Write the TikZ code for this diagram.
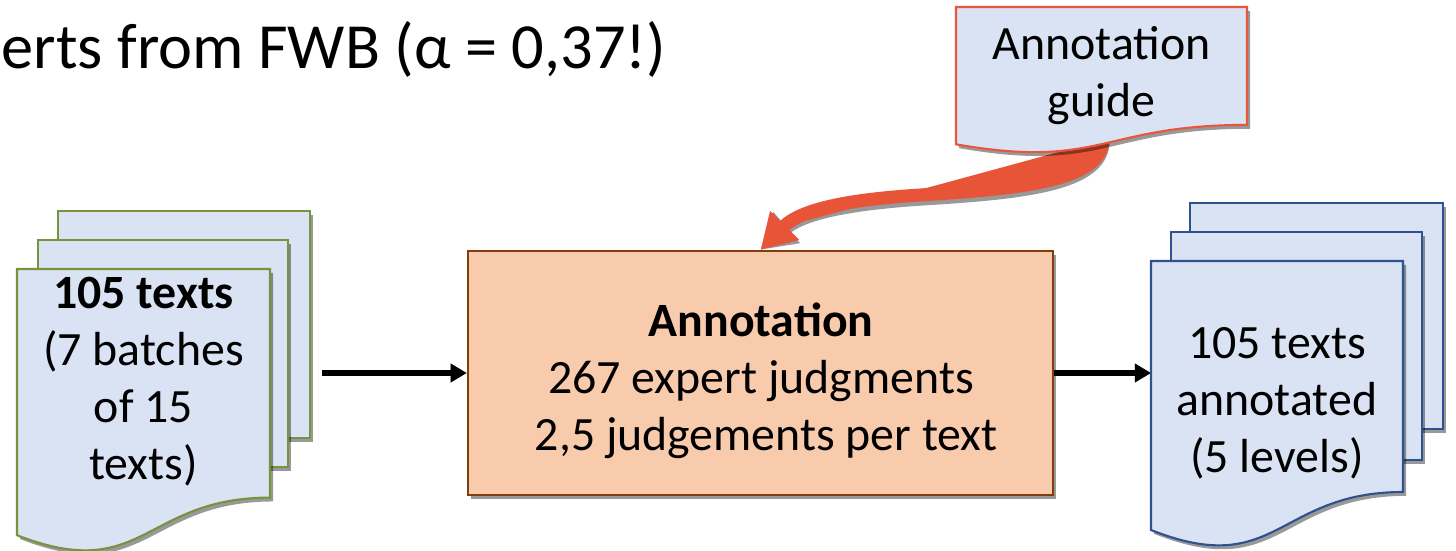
\documentclass[tikz,border=0pt]{standalone}
\usepackage{fontspec}
\setmainfont{Carlito}
\usetikzlibrary{arrows.meta,shadows,calc}
\definecolor{docfill}{RGB}{218,227,243}
\definecolor{docgreen}{RGB}{119,147,60}
\definecolor{docblue}{RGB}{47,82,143}
\definecolor{guidered}{RGB}{232,86,60}
\definecolor{arrowred}{RGB}{232,84,56}
\definecolor{boxfill}{RGB}{248,203,173}
\definecolor{boxdraw}{RGB}{132,60,12}
\tikzset{
  shad/.style={drop shadow={shadow xshift=0.9pt,shadow yshift=-1.1pt,opacity=0.4,fill=black}},
  greendoc/.style={fill=docfill,draw=docgreen,line width=0.6pt,shad},
  bluedoc/.style={fill=docfill,draw=docblue,line width=0.6pt,shad},
  guidedoc/.style={fill=docfill,draw=guidered,line width=0.6pt,shad},
  doctext/.style={align=center,inner sep=0pt,font=\fontsize{13.6}{16.2}\selectfont},
  flowarrow/.style={line width=1.7pt,-{Triangle[length=4.6pt,width=5.1pt]}},
  bigarrow/.style={line width=3.7pt,draw=arrowred,-{Triangle[length=9.8pt,width=11pt]}},
}
\begin{document}
\begin{tikzpicture}[x=0.01cm,y=-0.01cm]
\useasboundingbox (0,0) rectangle (1456,551);

% title
\node[anchor=base west,inner sep=0pt,font=\fontsize{18.3}{23}\selectfont] (title) at (1,68) {erts from FWB (α = 0,37!)};

% left stack
\path[greendoc] (58,211) rectangle (310,438);
\path[greendoc] (38,240) rectangle (288,467);
\path[greendoc] (17,269) -- (270,269) -- (270,497.6) .. controls (143.5,497.6) and (143.5,584.6) .. (17,535.2) -- cycle;
\node[doctext] (docL) at (143.5,382) {\textbf{105 texts}\\(7 batches\\of 15\\texts)};
\coordinate (lstart) at (322,374);

% annotation box
\node[draw=boxdraw,fill=boxfill,line width=0.6pt,shad,minimum width=5.85cm,minimum height=2.44cm,inner sep=0pt] (ann) at (760.5,373) {};
\node[doctext] (anntext) at (761,381) {\textbf{Annotation}\\267 expert judgments\\\hspace*{0.22em}2,5 judgements per text};

% right stack
\path[bluedoc] (1190,203) rectangle (1443,429);
\path[bluedoc] (1171,232) rectangle (1422,460);
\path[bluedoc] (1151,261) -- (1403,261) -- (1403,492) .. controls (1277,492) and (1277,580) .. (1151,530) -- cycle;
\coordinate (rfront) at (1151,261);
\node[doctext] (docR) at (1277,403) {105 texts\\annotated\\(5 levels)};

% red curved arrow (with shadow), then guide on top
\coordinate (gstart) at (1103,140);
\begin{scope}[shift={(3,4)}]
\draw[bigarrow,draw=black!40,fill=black!40] (gstart) .. controls (1102,182) and (1015,189) .. (920,195) .. controls (858,199) and (803,207) .. (ann.north);
\end{scope}
\draw[bigarrow,fill=arrowred] (gstart) .. controls (1102,182) and (1015,189) .. (920,195) .. controls (858,199) and (803,207) .. (ann.north);

\path[guidedoc] (956,7) -- (1247,7) -- (1247,124.9) .. controls (1101.5,124.9) and (1101.5,169.8) .. (956,144.3) -- cycle;
\node[doctext] (guide) at (1101.5,76) {Annotation\\guide};

% flow arrows (with shadows)
\begin{scope}[shift={(2,4)}]
\draw[flowarrow,black!35] (lstart |- ann.west) -- (ann.west);
\draw[flowarrow,black!35] (ann.east) -- (ann.east -| rfront);
\end{scope}
\draw[flowarrow] (lstart |- ann.west) -- (ann.west);
\draw[flowarrow] (ann.east) -- (ann.east -| rfront);
\end{tikzpicture}
\end{document}
